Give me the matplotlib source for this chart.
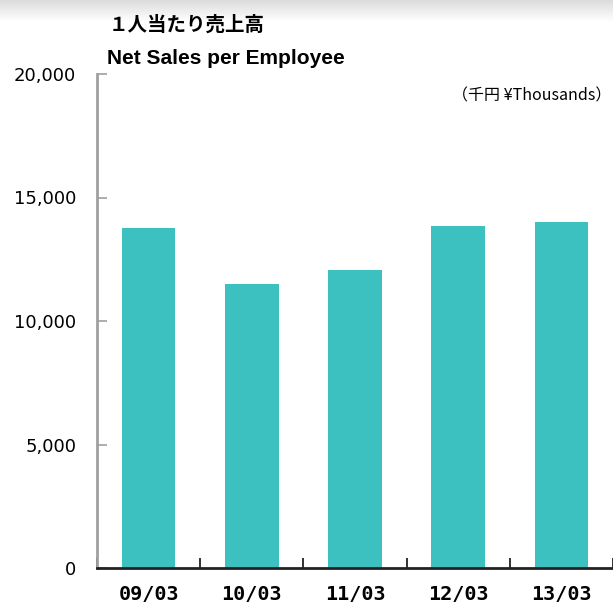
import numpy as np
import matplotlib.pyplot as plt

categories = ["09/03", "10/03", "11/03", "12/03", "13/03"]
sales_per_employee = [13750, 11480, 12050, 13830, 14000]
y_ticks = [0, 5000, 10000, 15000, 20000]
y_tick_labels = ["0", "5,000", "10,000", "15,000", "20,000"]

BAR_COLOR = "#3dc0c0"

fig = plt.figure(figsize=(6.13, 6.08), dpi=100)

# soft grey shadow band along the top edge
shade = fig.add_axes([0, 1 - 22 / 608, 1, 22 / 608])
grad = np.linspace(0.86, 1.0, 50).reshape(-1, 1)
shade.imshow(grad, cmap="gray", vmin=0, vmax=1, aspect="auto", extent=[0, 1, 0, 1])
shade.set_axis_off()

ax = fig.add_axes([97 / 613, 1 - 568 / 608, (613 - 97) / 613, (568 - 74) / 608])
x = np.arange(len(categories))
ax.bar(x, sales_per_employee, width=0.52, color=BAR_COLOR, zorder=2)

ax.set_xlim(-0.5, len(categories) - 0.5)
ax.set_ylim(0, 20000)
ax.set_yticks(y_ticks)
ax.set_yticklabels(y_tick_labels, fontsize=13, family="DejaVu Sans")
ax.tick_params(axis="y", direction="in", length=7, width=1.2, color="#a0a0a0", pad=15)

# category boundaries carry the x ticks, labels sit at the centres
ax.set_xticks(np.arange(-0.5, len(categories), 1.0))
ax.set_xticklabels([])
ax.set_xticks(x, minor=True)
ax.set_xticklabels(categories, minor=True, fontsize=14.5, fontweight="bold",
                   family="DejaVu Sans Mono")
ax.tick_params(axis="x", which="major", direction="in", length=7, width=1.3, color="#222222")
ax.tick_params(axis="x", which="minor", length=0, pad=12)

for side in ("top", "right"):
    ax.spines[side].set_visible(False)
ax.spines["left"].set_color("#a0a0a0")
ax.spines["left"].set_linewidth(2)
ax.spines["bottom"].set_color("#222222")
ax.spines["bottom"].set_linewidth(2)

fig.text(109 / 613, 1 - 25 / 608, "１人当たり売上高", fontsize=14, fontweight="bold",
         family=["Noto Sans CJK JP", "DejaVu Sans"], va="center", ha="left")
fig.text(107 / 613, 1 - 58 / 608, "Net Sales per Employee", fontsize=15, fontweight="bold",
         family="Liberation Sans", va="center", ha="left")
fig.text(611 / 613, 1 - 96 / 608, "（千円 ¥Thousands）", fontsize=11.5,
         family=["Noto Sans CJK JP", "DejaVu Sans"], va="center", ha="right")

fig.savefig("out.png", dpi=100)
